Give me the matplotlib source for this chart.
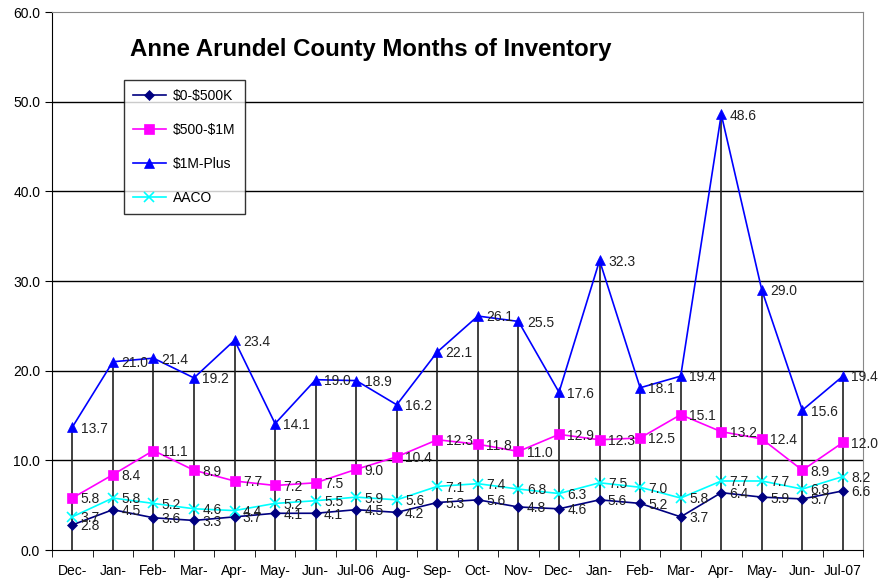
# Anne Arundel County months of inventory chart
import numpy as np
import matplotlib.pyplot as plt
from matplotlib.ticker import FixedLocator, FormatStrFormatter

plt.rcParams['font.family'] = ['Liberation Sans', 'DejaVu Sans']

months = ['Dec-', 'Jan-', 'Feb-', 'Mar-', 'Apr-', 'May-', 'Jun-', 'Jul-06', 'Aug-', 'Sep-',
          'Oct-', 'Nov-', 'Dec-', 'Jan-', 'Feb-', 'Mar-', 'Apr-', 'May-', 'Jun-', 'Jul-07']

low = [2.8, 4.5, 3.6, 3.3, 3.7, 4.1, 4.1, 4.5, 4.2, 5.3,
       5.6, 4.8, 4.6, 5.6, 5.2, 3.7, 6.4, 5.9, 5.7, 6.6]
mid = [5.8, 8.4, 11.1, 8.9, 7.7, 7.2, 7.5, 9.0, 10.4, 12.3,
       11.8, 11.0, 12.9, 12.3, 12.5, 15.1, 13.2, 12.4, 8.9, 12.0]
high = [13.7, 21.0, 21.4, 19.2, 23.4, 14.1, 19.0, 18.9, 16.2, 22.1,
        26.1, 25.5, 17.6, 32.3, 18.1, 19.4, 48.6, 29.0, 15.6, 19.4]
aaco = [3.7, 5.8, 5.2, 4.6, 4.4, 5.2, 5.5, 5.9, 5.6, 7.1,
        7.4, 6.8, 6.3, 7.5, 7.0, 5.8, 7.7, 7.7, 6.8, 8.2]

x = np.arange(len(months))

fig = plt.figure(figsize=(8.89, 5.78), dpi=100)
ax = fig.add_axes([0.0585, 0.0484, 0.9125, 0.9306])

# horizontal gridlines
for g in [10, 20, 30, 40, 50]:
    ax.axhline(g, color='black', lw=1, zorder=0)

# drop lines from the top value down to the axis
tops = np.max([low, mid, high, aaco], axis=0)
ax.vlines(x, 0, tops, color='#202020', lw=1.2, zorder=1)

series = [
    (low, r'\$0-\$500K', '#000080', 'D', 5),
    (mid, r'\$500-\$1M', '#FF00FF', 's', 7),
    (high, r'\$1M-Plus', '#0000FF', '^', 7),
    (aaco, 'AACO', '#00FFFF', 'x', 7),
]
for vals, name, col, mk, ms in series:
    ax.plot(x, vals, color=col, marker=mk, markersize=ms, lw=1.2,
            markeredgewidth=1.2 if mk == 'x' else 0.5, label=name, zorder=3)
    for xi, v in zip(x, vals):
        ax.annotate('%.1f' % v, (xi, v), xytext=(6, -1), textcoords='offset points',
                    ha='left', va='center', fontsize=10, color='#222222', zorder=4)

ax.set_xlim(-0.5, len(months) - 0.5)
ax.set_ylim(0, 60)
ax.set_yticks(np.arange(0, 61, 10))
ax.yaxis.set_major_formatter(FormatStrFormatter('%.1f'))
ax.set_xticks(x)
ax.set_xticklabels(months)
ax.tick_params(axis='x', which='major', length=0, labelsize=10, pad=10)
ax.xaxis.set_minor_locator(FixedLocator(np.arange(-0.5, len(months), 1)))
ax.tick_params(axis='x', which='minor', length=5, direction='out')
ax.tick_params(axis='y', length=5, direction='out', labelsize=10)

for s in ['top', 'right']:
    ax.spines[s].set_color('#888888')
ax.spines['left'].set_color('black')
ax.spines['bottom'].set_color('black')

fig.text(0.146, 0.915, 'Anne Arundel County Months of Inventory', fontsize=17.3,
         fontweight='bold', ha='left', va='center')

leg = ax.legend(loc='upper left', bbox_to_anchor=(0.0885, 0.874), frameon=True,
                fancybox=False, edgecolor='black', fontsize=10, labelspacing=1.45,
                handlelength=2.4, handletextpad=0.5, borderpad=0.65, borderaxespad=0)
leg.get_frame().set_linewidth(1)

fig.savefig('out.png', dpi=100)
